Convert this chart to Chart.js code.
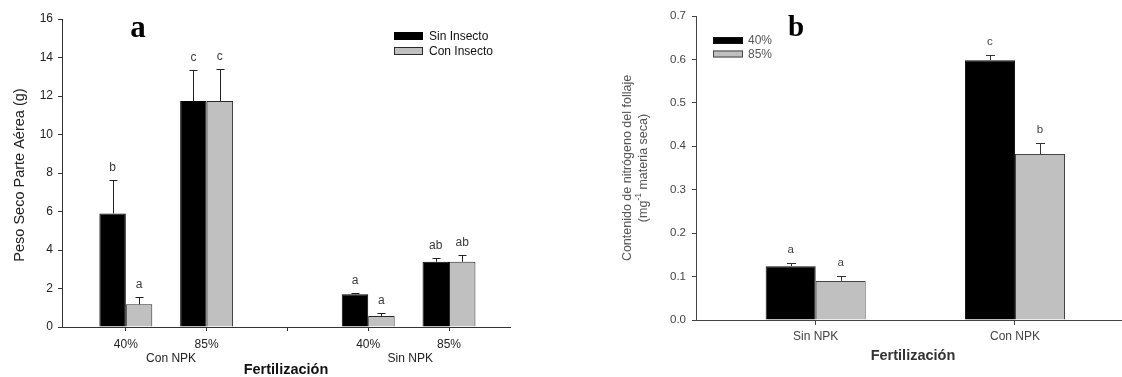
<!DOCTYPE html>
<html><head><meta charset="utf-8">
<script src="https://cdn.jsdelivr.net/npm/chart.js@4"></script>
<style>
html,body{margin:0;padding:0;background:#fff;width:1122px;height:377px;overflow:hidden}
#pa{position:absolute;left:0;top:0;width:560px;height:377px}
#pb{position:absolute;left:560px;top:0;width:562px;height:377px}
</style></head><body>
<div id="pa"><canvas id="ca"></canvas></div>
<div id="pb"><canvas id="cb"></canvas></div>
<script>
// ---------- Panel a data ----------
const aPositions = [0, 1, 3, 4];
const aTickValues = [0, 1, 2, 3, 4];
const aTickLabels = ['40%', '85%', '', '40%', '85%'];
const aGroupLabels = ['Con NPK', 'Sin NPK'];
const aGroupCenters = [0.56, 3.52];
const aSeriesNames = ['Sin Insecto', 'Con Insecto'];
const aSinInsecto = [5.9, 11.74, 1.70, 3.39];
const aSinInsectoErr = [1.73, 1.60, 0.08, 0.17];
const aConInsecto = [1.18, 11.74, 0.57, 3.39];
const aConInsectoErr = [0.36, 1.68, 0.17, 0.33];
const aSinLetters = ['b', 'c', 'a', 'ab'];
const aConLetters = ['a', 'c', 'a', 'ab'];
const aYTicks = [0, 2, 4, 6, 8, 10, 12, 14, 16];

// ---------- Panel b data ----------
const bPositions = [0, 1];
const bTickLabels = ['Sin NPK', 'Con NPK'];
const bSeriesNames = ['40%', '85%'];
const b40 = [0.124, 0.598];
const b40Err = [0.007, 0.012];
const b85 = [0.090, 0.382];
const b85Err = [0.011, 0.025];
const b40Letters = ['a', 'c'];
const b85Letters = ['a', 'b'];
const bYTicks = [0, 0.1, 0.2, 0.3, 0.4, 0.5, 0.6, 0.7];

const SANS = '"Liberation Sans", Arial, sans-serif';
const SERIF = '"Liberation Serif", "Times New Roman", serif';

function pts(xs, ys) { return xs.map((x, i) => ({ x: x, y: ys[i] })); }

function drawErrors(chart, cfg) {
  const ctx = chart.ctx, ys = chart.scales.y;
  chart.data.datasets.forEach((ds, i) => {
    const meta = chart.getDatasetMeta(i);
    meta.data.forEach((bar, j) => {
      const v = ds.data[j].y, e = ds.errors[j];
      const top = Math.round(ys.getPixelForValue(v + e)) + 0.5;
      const x = Math.round(bar.x) + 0.5;
      ctx.save();
      ctx.strokeStyle = cfg.errColor; ctx.lineWidth = 1;
      ctx.beginPath();
      ctx.moveTo(x, bar.y); ctx.lineTo(x, top);
      ctx.moveTo(x - cfg.cap / 2, top); ctx.lineTo(x + cfg.cap / 2, top);
      ctx.stroke();
      ctx.fillStyle = cfg.letterColor; ctx.font = cfg.letterFont;
      ctx.textAlign = 'center'; ctx.textBaseline = 'middle';
      ctx.fillText(ds.letters[j], bar.x, top - cfg.letterGap);
      ctx.restore();
    });
  });
}

function drawLegend(chart, cfg) {
  const ctx = chart.ctx;
  chart.data.datasets.forEach((ds, i) => {
    const y = cfg.y + i * cfg.dy;
    ctx.save();
    ctx.fillStyle = ds.backgroundColor;
    ctx.fillRect(cfg.x, y, cfg.bw, cfg.bh);
    ctx.strokeStyle = ds.borderColor; ctx.lineWidth = 1;
    ctx.strokeRect(cfg.x + 0.5, y + 0.5, cfg.bw - 1, cfg.bh - 1);
    ctx.fillStyle = cfg.color; ctx.font = cfg.font;
    ctx.textAlign = 'left'; ctx.textBaseline = 'middle';
    ctx.fillText(ds.label, cfg.x + cfg.bw + cfg.gap, y + cfg.bh / 2 + 0.5);
    ctx.restore();
  });
}

function text(ctx, s, x, y, font, color, rot) {
  ctx.save();
  ctx.translate(x, y);
  if (rot) ctx.rotate(rot);
  ctx.font = font; ctx.fillStyle = color;
  ctx.textAlign = 'center'; ctx.textBaseline = 'middle';
  ctx.fillText(s, 0, 0);
  ctx.restore();
}

// ---------- Chart a ----------
const pluginA = {
  id: 'panelA',
  afterDatasetsDraw(chart) {
    drawErrors(chart, { errColor: '#222', cap: 8, letterColor: '#3a3a3a', letterFont: '12px ' + SANS, letterGap: 12.5 });
  },
  afterDraw(chart) {
    const ctx = chart.ctx, xs = chart.scales.x, ca = chart.chartArea;
    aGroupLabels.forEach((g, i) => text(ctx, g, xs.getPixelForValue(aGroupCenters[i]), 359, '12px ' + SANS, '#222'));
    text(ctx, 'Fertilización', (ca.left + ca.right) / 2, 370, 'bold 14.5px ' + SANS, '#111');
    text(ctx, 'Peso Seco Parte Aérea (g)', 20, (ca.top + ca.bottom) / 2 + 2, '14.5px ' + SANS, '#222', -Math.PI / 2);
    text(ctx, 'a', 138, 29, 'bold 31px ' + SERIF, '#000');
    drawLegend(chart, { x: 394, y: 32, dy: 15, bw: 29, bh: 8, gap: 6, font: '12px ' + SANS, color: '#111' });
  }
};

new Chart(document.getElementById('ca'), {
  type: 'bar',
  data: {
    datasets: [
      { label: aSeriesNames[0], data: pts(aPositions, aSinInsecto), errors: aSinInsectoErr, letters: aSinLetters,
        backgroundColor: '#000000', borderColor: '#000000', borderWidth: 1 },
      { label: aSeriesNames[1], data: pts(aPositions, aConInsecto), errors: aConInsectoErr, letters: aConLetters,
        backgroundColor: '#c0c0c0', borderColor: '#2a2a2a', borderWidth: 1 }
    ]
  },
  options: {
    responsive: true, maintainAspectRatio: false, animation: false,
    layout: { padding: { left: 0, right: 50, top: 19, bottom: 0 } },
    datasets: { bar: { barPercentage: 1.0, categoryPercentage: 0.655 } },
    plugins: { legend: { display: false }, tooltip: { enabled: false } },
    scales: {
      x: {
        type: 'linear', min: -0.79, max: 4.755, offset: false,
        afterBuildTicks(s) { s.ticks = aTickValues.map(v => ({ value: v })); },
        afterFit(s) { s.height = 50; },
        grid: { display: true, drawOnChartArea: false, drawTicks: true, tickLength: 4, color: '#333', offset: false },
        border: { display: true, color: '#333', width: 1 },
        ticks: { padding: 6, color: '#222', font: { family: SANS, size: 12 }, maxRotation: 0, autoSkip: false,
          callback: (v) => aTickLabels[aTickValues.indexOf(v)] ?? '' }
      },
      y: {
        min: 0, max: 16,
        afterBuildTicks(s) { s.ticks = aYTicks.map(v => ({ value: v })); },
        afterFit(s) { s.width = 62; },
        grid: { display: true, drawOnChartArea: false, drawTicks: true, tickLength: 4, color: '#333' },
        border: { display: true, color: '#333', width: 1 },
        ticks: { padding: 5, color: '#222', font: { family: SANS, size: 12 } }
      }
    }
  },
  plugins: [pluginA]
});

// ---------- Chart b ----------
const pluginB = {
  id: 'panelB',
  afterDatasetsDraw(chart) {
    drawErrors(chart, { errColor: '#333', cap: 9, letterColor: '#444', letterFont: '11.5px ' + SANS, letterGap: 14 });
  },
  afterDraw(chart) {
    const ctx = chart.ctx, ca = chart.chartArea;
    text(ctx, 'Fertilización', 353, 356, 'bold 14.5px ' + SANS, '#333');
    const cy = (ca.top + ca.bottom) / 2;
    text(ctx, 'Contenido de nitrógeno del follaje', 68, cy, '12.5px ' + SANS, '#555', -Math.PI / 2);
    // second line with superscript
    ctx.save();
    ctx.translate(84, cy);
    ctx.rotate(-Math.PI / 2);
    ctx.fillStyle = '#555';
    ctx.textBaseline = 'middle';
    const f = '12.5px ' + SANS, fs = '8.5px ' + SANS;
    const p1 = '(mg', sup = '-1', p2 = ' materia seca)';
    ctx.font = f; const w1 = ctx.measureText(p1).width, w3 = ctx.measureText(p2).width;
    ctx.font = fs; const w2 = ctx.measureText(sup).width;
    let x0 = -(w1 + w2 + w3) / 2;
    ctx.textAlign = 'left';
    ctx.font = f; ctx.fillText(p1, x0, 0);
    ctx.font = fs; ctx.fillText(sup, x0 + w1, -5);
    ctx.font = f; ctx.fillText(p2, x0 + w1 + w2, 0);
    ctx.restore();
    text(ctx, 'b', 236, 29, 'bold 29px ' + SERIF, '#000');
    drawLegend(chart, { x: 153, y: 37, dy: 13.5, bw: 30, bh: 7, gap: 5, font: '12px ' + SANS, color: '#555' });
  }
};

new Chart(document.getElementById('cb'), {
  type: 'bar',
  data: {
    datasets: [
      { label: bSeriesNames[0], data: pts(bPositions, b40), errors: b40Err, letters: b40Letters,
        backgroundColor: '#000000', borderColor: '#111111', borderWidth: 1 },
      { label: bSeriesNames[1], data: pts(bPositions, b85), errors: b85Err, letters: b85Letters,
        backgroundColor: '#c0c0c0', borderColor: '#444444', borderWidth: 1 }
    ]
  },
  options: {
    responsive: true, maintainAspectRatio: false, animation: false,
    layout: { padding: { left: 0, right: 0, top: 16, bottom: 0 } },
    datasets: { bar: { barPercentage: 1.0, categoryPercentage: 0.502 } },
    plugins: { legend: { display: false }, tooltip: { enabled: false } },
    scales: {
      x: {
        type: 'linear', min: -0.6006, max: 1.537, offset: false,
        afterBuildTicks(s) { s.ticks = bPositions.map(v => ({ value: v })); },
        afterFit(s) { s.height = 57; },
        grid: { display: true, drawOnChartArea: false, drawTicks: true, tickLength: 5, color: '#444', offset: false },
        border: { display: true, color: '#444', width: 1 },
        ticks: { padding: 4, color: '#444', font: { family: SANS, size: 12 }, maxRotation: 0, autoSkip: false,
          callback: (v) => bTickLabels[bPositions.indexOf(v)] ?? '' }
      },
      y: {
        min: 0, max: 0.7,
        afterBuildTicks(s) { s.ticks = bYTicks.map(v => ({ value: v })); },
        afterFit(s) { s.width = 136; },
        grid: { display: true, drawOnChartArea: false, drawTicks: true, tickLength: 4, color: '#444' },
        border: { display: true, color: '#444', width: 1 },
        ticks: { padding: 6, color: '#444', font: { family: SANS, size: 11.5 }, callback: (v) => Number(v).toFixed(1) }
      }
    }
  },
  plugins: [pluginB]
});
</script>
</body></html>
